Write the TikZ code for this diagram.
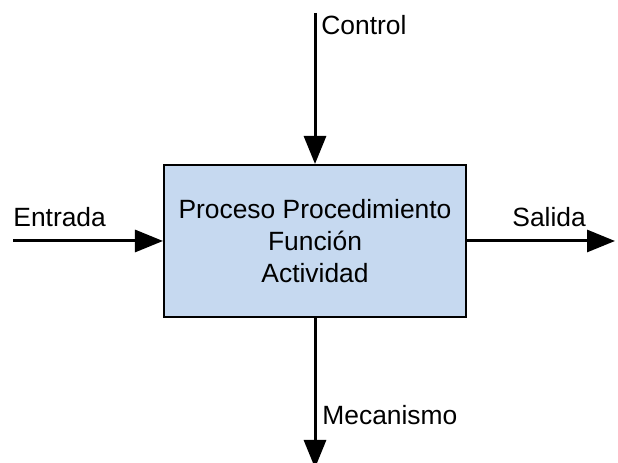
\documentclass[tikz,border=0pt]{standalone}
\usepackage{fontspec}
\setmainfont{Liberation Sans}
\usetikzlibrary{arrows.meta}
\definecolor{boxblue}{RGB}{198,217,240}

\begin{document}
\begin{tikzpicture}[x=0.5bp,y=0.5bp,
    flow/.style={line width=1.5bp, -{Triangle[length=14bp,width=11bp]}},
    lbl/.style={font=\fontsize{13.2bp}{15.8bp}\selectfont, inner sep=0pt}]
    \useasboundingbox (0,0) rectangle (618,463);

    % Process box
    \node[lbl, draw, line width=1bp, fill=boxblue, minimum width=151bp, minimum height=76bp, align=center] (proc) at (315,222) {Proceso Procedimiento\\Función\\Actividad};

    % Free ends of the arrows
    \coordinate (ctrl) at (315,450);
    \coordinate (inp) at (13,222);
    \coordinate (out) at (615,222);
    \coordinate (mech) at (315,-5);

    % Arrows
    \draw[flow] (ctrl) -- (proc.north);
    \draw[flow] (inp) -- (proc.west);
    \draw[flow] (proc.east) -- (out);
    \draw[flow] (proc.south) -- (mech);

    % Labels
    \node[lbl, anchor=base west] (ctrllbl) at (321,428) {Control};
    \node[lbl, anchor=base west] (inplbl) at (13,236) {Entrada};
    \node[lbl, anchor=base west] (outlbl) at (512,236) {Salida};
    \node[lbl, anchor=base west] (mechlbl) at (322,38) {Mecanismo};
\end{tikzpicture}
\end{document}
